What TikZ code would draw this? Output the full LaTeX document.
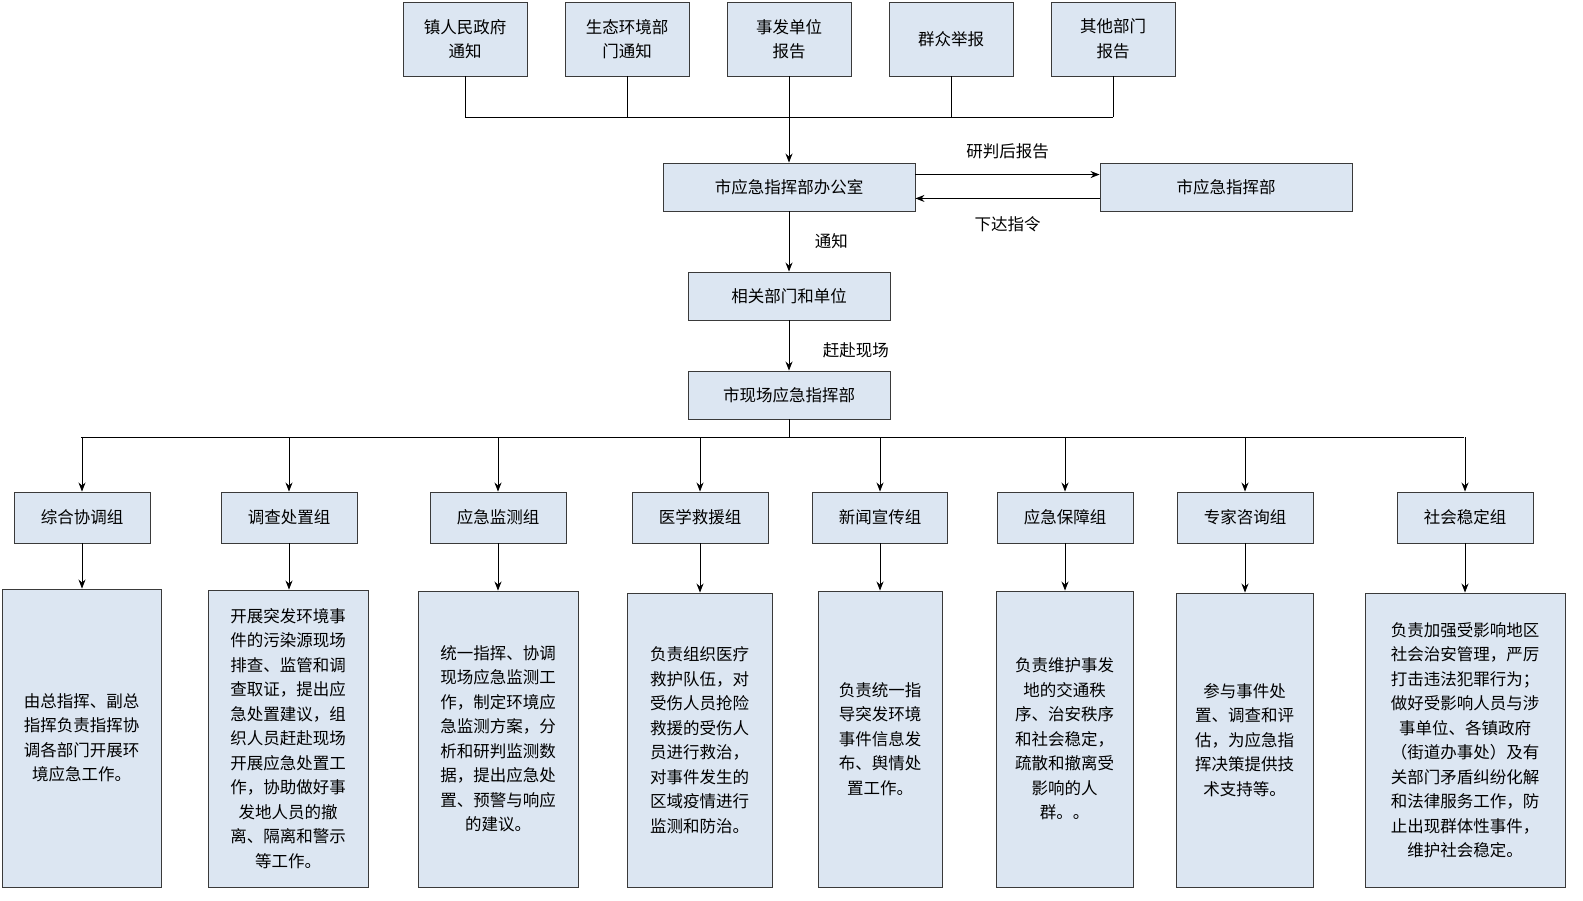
\documentclass[tikz,border=0pt]{standalone}
\usepackage{fontspec}
\setmainfont{Noto Sans CJK SC}
\usetikzlibrary{arrows.meta}
\definecolor{boxfill}{HTML}{DCE6F2}
\definecolor{edge}{HTML}{3A3A3A}
\tikzset{
 box/.style={draw=edge,fill=boxfill,line width=0.9pt,align=center,inner sep=2pt,font=\fontsize{16.5}{24.5}\selectfont},
 arr/.style={draw=black,line width=0.9pt,-{Stealth[length=9pt,width=7pt]}},
 ln/.style={draw=black,line width=0.9pt},
 lbl/.style={font=\fontsize{16.5}{20}\selectfont},
}
\begin{document}
\begin{tikzpicture}[x=1pt,y=-1pt]
\useasboundingbox (0,0) rectangle (1583,901);
% top
\foreach \n/\x/\t in {t1/465/镇人民政府\\通知, t2/627/生态环境部\\门通知, t3/789/事发单位\\报告, t4/951/群众举报, t5/1113/其他部门\\报告}
  \node[box,minimum width=124pt,minimum height=74pt] (\n) at (\x,39) {\t};
\coordinate (j1) at (465,117);\coordinate (j5) at (1113,117);\coordinate (jc) at (789,117);
\foreach \n in {t1,t2,t3,t4,t5} \draw[ln] (\n.south) -- (\n.south |- jc);
\draw[ln] (j1) -- (j5);
\node[box,minimum width=252pt,minimum height=48pt] (off) at (789,187) {市应急指挥部办公室};
\node[box,minimum width=252pt,minimum height=48pt] (cmd) at (1226,187) {市应急指挥部};
\draw[arr] (jc) -- (off.north);
\draw[arr] ([yshift=-12pt]off.north east) -- node[lbl,above=12pt]{研判后报告} ([yshift=-12pt]cmd.north west);
\draw[arr] ([yshift=13pt]cmd.south west) -- node[lbl,below=14pt]{下达指令} ([yshift=13pt]off.south east);
\node[box,minimum width=202pt,minimum height=48pt] (rel) at (789,296) {相关部门和单位};
\node[box,minimum width=202pt,minimum height=48pt] (site) at (789,395) {市现场应急指挥部};
\draw[arr] (off) -- node[lbl,right=22pt,pos=0.5]{通知} (rel);
\draw[arr] (rel) -- node[lbl,right=30pt,pos=0.6]{赶赴现场} (site);
\coordinate (bj) at (789,437);
\draw[ln] (site.south) -- (bj);
\draw[ln] (81,437) -- (1464,437);
\foreach \n/\x/\w/\t in {g1/82/136/综合协调组, g2/289/136/调查处置组, g3/498/136/应急监测组, g4/700/136/医学救援组, g5/880/135/新闻宣传组, g6/1065/136/应急保障组, g7/1245/136/专家咨询组, g8/1465/136/社会稳定组}
{ \node[box,minimum width=\w pt,minimum height=51pt] (\n) at (\x,517.5) {\t};
  \draw[arr] (\x,437) -- (\n.north); }
\node[box,minimum width=159pt,minimum height=298pt] (d1) at (81.5,738) {由总指挥、副总\\指挥负责指挥协\\调各部门开展环\\境应急工作。};
\node[box,minimum width=160pt,minimum height=297pt] (d2) at (288,738.5) {开展突发环境事\\件的污染源现场\\排查、监管和调\\查取证，提出应\\急处置建议，组\\织人员赶赴现场\\开展应急处置工\\作，协助做好事\\发地人员的撤\\离、隔离和警示\\等工作。};
\node[box,minimum width=160pt,minimum height=296pt] (d3) at (498,739) {统一指挥、协调\\现场应急监测工\\作，制定环境应\\急监测方案，分\\析和研判监测数\\据，提出应急处\\置、预警与响应\\的建议。};
\node[box,minimum width=145pt,minimum height=294pt] (d4) at (699.5,740) {负责组织医疗\\救护队伍，对\\受伤人员抢险\\救援的受伤人\\员进行救治，\\对事件发生的\\区域疫情进行\\监测和防治。};
\node[box,minimum width=124pt,minimum height=296pt] (d5) at (880,739) {负责统一指\\导突发环境\\事件信息发\\布、舆情处\\置工作。};
\node[box,minimum width=137pt,minimum height=296pt] (d6) at (1064.5,739) {负责维护事发\\地的交通秩\\序、治安秩序\\和社会稳定，\\疏散和撤离受\\影响的人\\群。。};
\node[box,minimum width=137pt,minimum height=294pt] (d7) at (1244.5,740) {参与事件处\\置、调查和评\\估，为应急指\\挥决策提供技\\术支持等。};
\node[box,minimum width=200pt,minimum height=294pt] (d8) at (1465,740) {负责加强受影响地区\\社会治安管理，严厉\\打击违法犯罪行为；\\做好受影响人员与涉\\事单位、各镇政府\\（街道办事处）及有\\关部门矛盾纠纷化解\\和法律服务工作，防\\止出现群体性事件，\\维护社会稳定。};
\foreach \i in {1,...,8} \draw[arr] (g\i.south) -- (g\i.south |- d\i.north);
\end{tikzpicture}
\end{document}
